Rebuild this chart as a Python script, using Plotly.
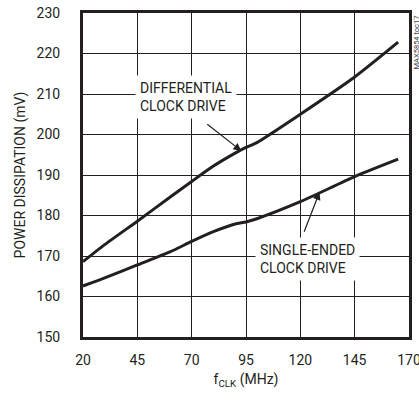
import plotly.graph_objects as go

freq_diff = [20, 30, 45, 60, 70, 80, 90, 95, 100, 120, 145, 165]
diff_mv = [168.6, 172.8, 178.6, 184.5, 188.4, 192.2, 195.4, 196.8, 198.0, 205.0, 214.2, 222.8]
freq_se = [20, 30, 45, 60, 70, 80, 90, 95, 100, 120, 145, 165]
se_mv = [162.6, 164.6, 167.8, 171.0, 173.6, 176.0, 177.9, 178.4, 179.2, 183.4, 189.6, 193.9]

x_ticks = [20, 45, 70, 95, 120, 145, 170]
y_ticks = [150, 160, 170, 180, 190, 200, 210, 220, 230]

FONT = "Roboto, Liberation Sans, sans-serif"
INK = "#231f20"

fig = go.Figure()
fig.add_trace(go.Scatter(x=freq_diff, y=diff_mv, mode="lines",
                         line=dict(color=INK, width=3, shape="spline", smoothing=0.6),
                         showlegend=False, hoverinfo="skip"))
fig.add_trace(go.Scatter(x=freq_se, y=se_mv, mode="lines",
                         line=dict(color=INK, width=3, shape="spline", smoothing=0.6),
                         showlegend=False, hoverinfo="skip"))

fig.update_layout(
    width=419, height=401,
    margin=dict(l=83, r=10, t=13, b=64),
    paper_bgcolor="white", plot_bgcolor="white",
    font=dict(family=FONT, size=14, color=INK),
    xaxis=dict(range=[20, 170], tickvals=x_ticks, ticktext=[str(v) for v in x_ticks],
               showgrid=True, gridcolor=INK, gridwidth=1, zeroline=False,
               showline=True, linecolor=INK, linewidth=3, mirror=True,
               ticks="", ticklabelstandoff=8, automargin=False,
               ticklabeloverflow="allow",
               title=dict(text="f<sub>CLK</sub> (MHz)", font=dict(size=14), standoff=8)),
    yaxis=dict(range=[150, 230], tickvals=y_ticks, ticktext=[str(v) for v in y_ticks],
               showgrid=True, gridcolor=INK, gridwidth=1, zeroline=False,
               showline=True, linecolor=INK, linewidth=3, mirror=True,
               ticks="", ticklabelstandoff=17, automargin=False,
               ticklabeloverflow="allow",
               title=dict(text="POWER DISSIPATION (mV)", font=dict(size=14), standoff=8)),
)

fig.add_annotation(x=93.2, y=195.8, ax=76.5, ay=202.8, axref="x", ayref="y",
                   xref="x", yref="y", showarrow=True, arrowhead=2, arrowsize=1.3,
                   arrowwidth=1.2, arrowcolor=INK, text="", standoff=1)
fig.add_annotation(x=129, y=186.0, ax=121.5, ay=175.6, axref="x", ayref="y",
                   xref="x", yref="y", showarrow=True, arrowhead=2, arrowsize=1.3,
                   arrowwidth=1.2, arrowcolor=INK, text="", standoff=1)

fig.add_annotation(x=67.4, y=209.3, xref="x", yref="y", showarrow=False,
                   text="DIFFERENTIAL<br>CLOCK DRIVE", align="left",
                   bgcolor="white", borderpad=4,
                   font=dict(family=FONT, size=14, color=INK))
fig.add_annotation(x=123.2, y=169.2, xref="x", yref="y", showarrow=False,
                   text="SINGLE-ENDED<br>CLOCK DRIVE", align="left",
                   bgcolor="white", borderpad=4,
                   font=dict(family=FONT, size=14, color=INK))

fig.add_annotation(xref="x domain", yref="y domain", x=1.0, y=1.0,
                   xanchor="left", yanchor="top", xshift=0, yshift=-1,
                   showarrow=False, text="MAX5854 toc17", textangle=-90,
                   font=dict(family=FONT, size=7.5, color="#444444"))

fig.write_html("out.html", config={"displayModeBar": False},
               post_script="document.body.style.margin='0';")
